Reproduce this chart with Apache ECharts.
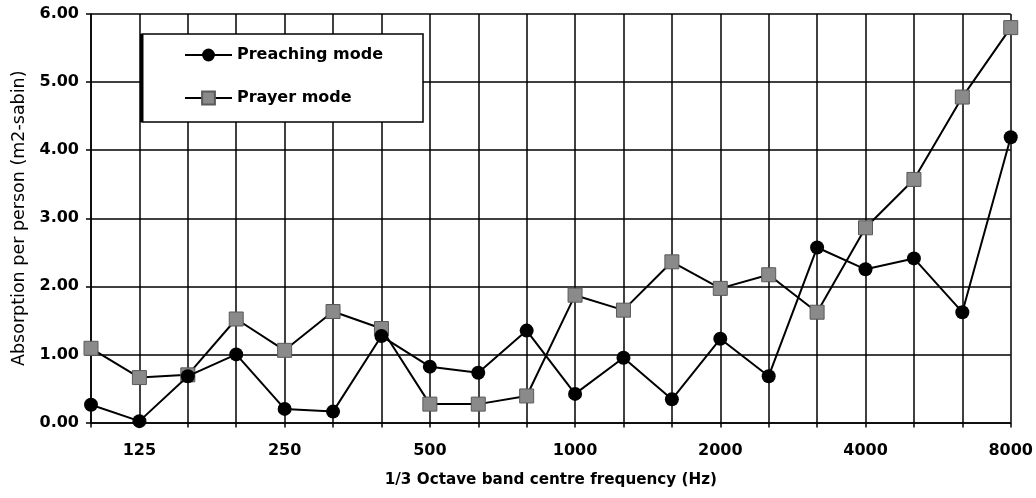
<!DOCTYPE html>
<html>
<head>
<meta charset="utf-8">
<script src="https://cdn.jsdelivr.net/npm/echarts@6/dist/echarts.min.js"></script>
<style>html,body{margin:0;padding:0;background:#fff}#c{width:1036px;height:498px}</style>
</head>
<body>
<div id="c"></div>
<script>
const categories = ['100','125','160','200','250','315','400','500','630','800','1000','1250','1600','2000','2500','3150','4000','5000','6300','8000'];
const preaching = [0.26,0.02,0.68,1.00,0.20,0.16,1.27,0.82,0.73,1.35,0.42,0.95,0.34,1.23,0.68,2.57,2.25,2.41,1.62,4.19];
const prayer = [1.09,0.66,0.70,1.52,1.06,1.63,1.38,0.27,0.27,0.39,1.87,1.65,2.36,1.97,2.17,1.62,2.86,3.57,4.78,5.80];
const yTicks = {min:0, max:6, interval:1};

const font = '"DejaVu Sans", sans-serif';
const chart = echarts.init(document.getElementById('c'));
chart.setOption({
  animation:false,
  backgroundColor:'#fff',
  grid:{left:91, right:25, top:14, bottom:75.5, containLabel:false},
  legend:{
    orient:'vertical', left:142, top:34,
    padding:[13,40,16,42],
    itemWidth:47, itemHeight:16, itemGap:27,
    backgroundColor:'#fff', borderColor:'#000', borderWidth:1.5,
    textStyle:{fontFamily:font, fontWeight:'bold', fontSize:16, color:'#000'},
    data:['Preaching mode','Prayer mode']
  },
  graphic:[{type:'rect', left:140, top:34, shape:{width:3.5, height:88}, style:{fill:'#000'}, z:100}],
  xAxis:{
    type:'category', data:categories, boundaryGap:false,
    name:'1/3 Octave band centre frequency (Hz)', nameLocation:'middle', nameGap:50,
    nameTextStyle:{fontFamily:font, fontWeight:'bold', fontSize:15.2, color:'#000'},
    axisLine:{lineStyle:{color:'#000', width:1.5}},
    axisTick:{show:true, interval:0, length:5, lineStyle:{color:'#000', width:1.5}},
    axisLabel:{interval:(i)=>i%3===1, margin:20, fontFamily:font, fontWeight:'bold', fontSize:16, color:'#000'},
    splitLine:{show:true, interval:0, lineStyle:{color:'#000', width:1.5}}
  },
  yAxis:{
    type:'value', min:yTicks.min, max:yTicks.max, interval:yTicks.interval,
    name:'Absorption per person (m2-sabin)', nameLocation:'middle', nameGap:62,
    nameTextStyle:{fontFamily:font, fontWeight:'normal', fontSize:17.5, color:'#000'},
    axisLine:{show:true, lineStyle:{color:'#000', width:1.5}},
    axisTick:{show:true, length:5, lineStyle:{color:'#000', width:1.5}},
    axisLabel:{margin:12, formatter:v=>v.toFixed(2), fontFamily:font, fontWeight:'bold', fontSize:16, color:'#000'},
    splitLine:{show:true, lineStyle:{color:'#000', width:1.5}}
  },
  series:[
    {name:'Preaching mode', type:'line', data:preaching, z:4,
     symbol:'circle', symbolSize:14,
     lineStyle:{color:'#000', width:2}, itemStyle:{color:'#000', borderColor:'#000', borderWidth:0}},
    {name:'Prayer mode', type:'line', data:prayer, z:3,
     symbol:'rect', symbolSize:14,
     lineStyle:{color:'#000', width:2}, itemStyle:{color:'#8a8a8a', borderColor:'#5a5a5a', borderWidth:1}}
  ]
});
</script>
</body>
</html>
